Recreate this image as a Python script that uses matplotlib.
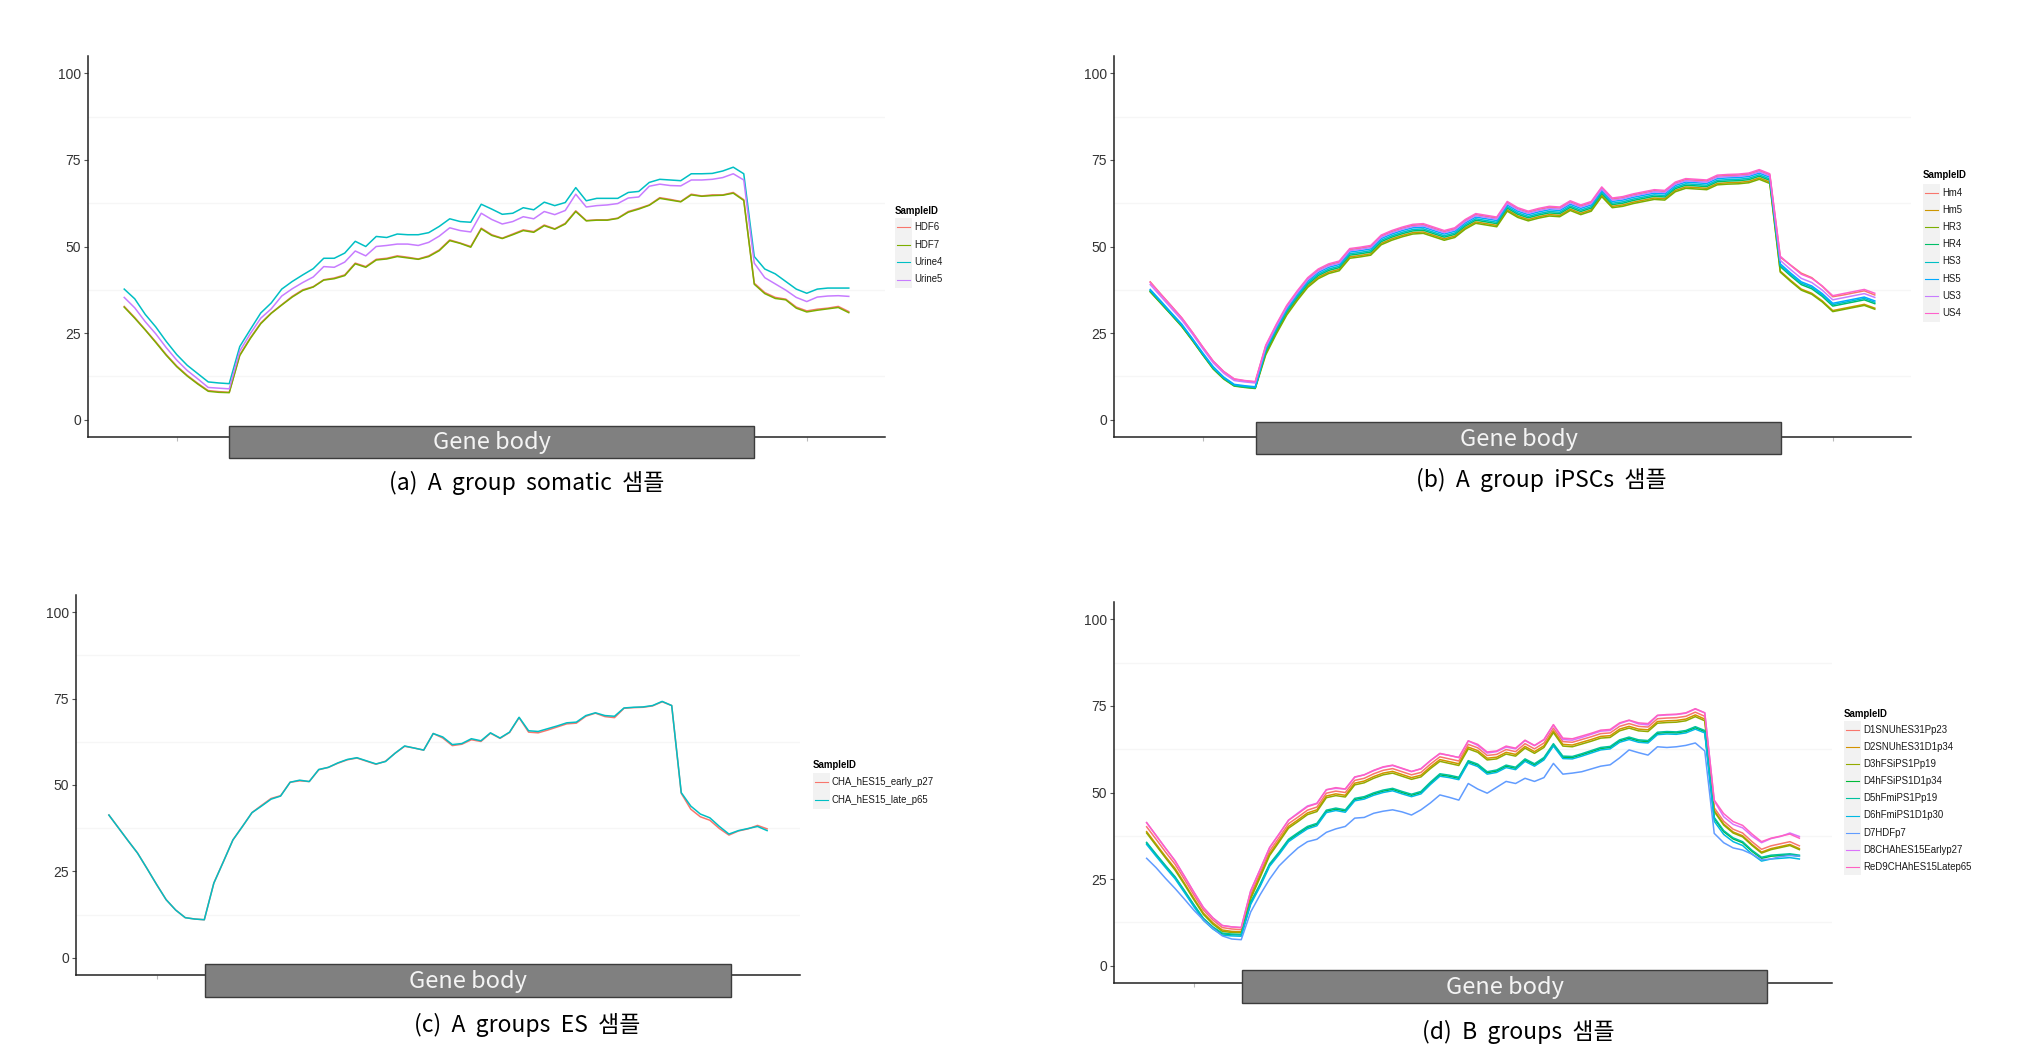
import matplotlib
matplotlib.use('Agg')
import matplotlib.pyplot as plt
from matplotlib.patches import Rectangle
from matplotlib.lines import Line2D
import numpy as np

W, H = 2038, 1058

###  DATA  ###  (gene body coverage, 70 bins: 10 upstream, 50 body, 10 downstream)

# (a) A group somatic
a_names = ['HDF6', 'HDF7', 'Urine4', 'Urine5']
a_HDF6 = [32.7, 29.5, 26.0, 22.5, 18.8, 15.5, 12.8, 10.5, 8.4, 8.1, 7.9,
          18.7, 23.6, 27.9, 30.8, 33.2, 35.6, 37.5, 38.4, 40.4, 40.9,
          41.8, 45.2, 44.2, 46.3, 46.6, 47.3, 46.9, 46.4, 47.3, 49.0,
          51.9, 51.0, 50.0, 55.3, 53.4, 52.4, 53.6, 54.8, 54.3, 56.2,
          55.1, 56.7, 60.3, 57.5, 57.7, 57.7, 58.2, 60.1, 61.0, 62.0,
          64.1, 63.6, 63.0, 65.1, 64.6, 64.9, 64.9, 65.6, 63.5, 39.4,
          36.7, 35.3, 34.8, 32.5, 31.4, 31.9, 32.2, 32.7, 31.2]
a_HDF7 = [32.5, 29.3, 25.9, 22.3, 18.6, 15.3, 12.6, 10.3, 8.2, 7.9, 7.8,
          18.5, 23.4, 27.7, 30.7, 33.1, 35.4, 37.3, 38.3, 40.3, 40.7,
          41.6, 45.0, 44.0, 46.1, 46.4, 47.1, 46.7, 46.3, 47.1, 48.8,
          51.7, 50.9, 49.8, 55.1, 53.2, 52.3, 53.4, 54.6, 54.1, 56.0,
          55.0, 56.5, 60.1, 57.4, 57.6, 57.6, 58.1, 59.9, 60.8, 61.9,
          63.9, 63.4, 62.9, 64.9, 64.5, 64.7, 64.8, 65.4, 63.3, 39.1,
          36.4, 35.0, 34.6, 32.2, 31.1, 31.6, 32.0, 32.4, 30.9]
a_Urine4 = [37.7, 34.9, 30.4, 26.8, 22.6, 18.8, 15.7, 13.3, 10.9, 10.6, 10.4,
            21.1, 26.0, 30.8, 33.7, 37.7, 39.9, 41.8, 43.6, 46.6, 46.6,
            48.1, 51.5, 50.0, 52.9, 52.6, 53.6, 53.4, 53.4, 54.0, 55.8,
            58.0, 57.2, 57.0, 62.2, 60.8, 59.3, 59.6, 61.2, 60.6, 62.8,
            61.8, 62.7, 67.0, 63.2, 63.9, 63.9, 63.9, 65.6, 65.9, 68.5,
            69.4, 69.2, 69.0, 71.0, 71.0, 71.1, 71.8, 72.9, 71.0, 47.1,
            43.5, 42.1, 39.9, 37.7, 36.5, 37.7, 38.0, 38.0, 38.0]
a_Urine5 = [35.3, 32.3, 28.3, 24.8, 20.8, 17.2, 14.2, 11.8, 9.3, 9.1, 8.9,
            19.8, 24.8, 29.3, 32.0, 35.7, 37.8, 39.6, 41.2, 44.2, 44.0,
            45.5, 48.7, 47.3, 50.0, 50.3, 50.7, 50.7, 50.3, 51.2, 53.0,
            55.4, 54.6, 54.2, 59.6, 57.8, 56.5, 57.2, 58.6, 58.0, 60.1,
            59.2, 60.4, 65.1, 61.4, 61.8, 62.0, 62.4, 64.0, 64.3, 67.4,
            68.0, 67.6, 67.5, 69.2, 69.2, 69.4, 69.9, 71.0, 69.2, 45.2,
            41.0, 39.2, 37.4, 35.3, 34.1, 35.4, 35.7, 35.8, 35.6]

# (b) A group iPSCs
b_names = ['Hm4', 'Hm5', 'HR3', 'HR4', 'HS3', 'HS5', 'US3', 'US4']
b_Hm4 = [39.8, 36.3, 32.9, 29.4, 25.3, 21.0, 16.9, 13.9, 11.7, 11.2, 10.9,
         21.2, 27.2, 32.7, 36.9, 40.7, 43.2, 44.7, 45.5, 49.1, 49.5,
         50.0, 53.0, 54.3, 55.3, 56.1, 56.3, 55.3, 54.3, 55.1, 57.5,
         59.2, 58.7, 58.2, 62.7, 60.9, 59.9, 60.7, 61.3, 61.1, 62.9,
         61.7, 62.7, 66.9, 63.7, 64.1, 64.9, 65.5, 66.1, 65.9, 68.3,
         69.3, 69.1, 68.9, 70.3, 70.5, 70.6, 70.9, 71.9, 70.7, 46.9,
         44.6, 42.3, 41.0, 38.5, 35.5, 36.0, 36.6, 37.2, 36.0]
b_Hm5 = [37.0, 33.7, 30.4, 27.0, 23.0, 18.8, 14.8, 11.9, 9.9, 9.5, 9.2,
         19.1, 25.1, 30.6, 34.8, 38.6, 41.1, 42.6, 43.4, 47.0, 47.4,
         47.9, 50.9, 52.2, 53.2, 54.0, 54.2, 53.2, 52.2, 53.0, 55.4,
         57.1, 56.6, 56.1, 60.6, 58.8, 57.8, 58.6, 59.2, 59.0, 60.8,
         59.6, 60.6, 64.8, 61.6, 62.0, 62.8, 63.4, 64.0, 63.8, 66.2,
         67.2, 67.0, 66.8, 68.2, 68.4, 68.5, 68.8, 69.8, 68.6, 42.9,
         40.2, 37.7, 36.5, 34.3, 31.5, 32.1, 32.7, 33.3, 32.2]
b_HR3 = [36.9, 33.6, 30.3, 26.9, 22.9, 18.7, 14.6, 11.7, 9.7, 9.3, 9.0,
         18.7, 24.7, 30.2, 34.4, 38.2, 40.7, 42.2, 43.0, 46.6, 47.0,
         47.5, 50.5, 51.8, 52.8, 53.6, 53.8, 52.8, 51.8, 52.6, 55.0,
         56.7, 56.2, 55.7, 60.2, 58.4, 57.4, 58.2, 58.8, 58.6, 60.4,
         59.2, 60.2, 64.4, 61.2, 61.6, 62.4, 63.0, 63.6, 63.4, 65.8,
         66.8, 66.6, 66.4, 67.8, 68.0, 68.1, 68.4, 69.4, 68.2, 42.6,
         39.9, 37.4, 36.2, 34.0, 31.2, 31.8, 32.4, 33.0, 31.9]
b_HR4 = [37.1, 33.8, 30.4, 27.1, 23.1, 18.8, 14.8, 11.9, 9.8, 9.4, 9.1,
         19.6, 25.6, 31.1, 35.3, 39.1, 41.6, 43.1, 43.9, 47.5, 47.9,
         48.4, 51.4, 52.7, 53.7, 54.5, 54.7, 53.7, 52.7, 53.5, 55.9,
         57.6, 57.1, 56.6, 61.1, 59.3, 58.3, 59.1, 59.7, 59.5, 61.3,
         60.1, 61.1, 65.3, 62.1, 62.5, 63.3, 63.9, 64.5, 64.3, 66.7,
         67.7, 67.5, 67.3, 68.7, 68.9, 69.0, 69.3, 70.3, 69.1, 44.2,
         41.5, 39.0, 37.8, 35.6, 32.8, 33.4, 34.0, 34.6, 33.5]
b_HS3 = [37.3, 34.0, 30.6, 27.3, 23.3, 19.0, 15.0, 12.1, 10.0, 9.6, 9.3,
         20.0, 26.0, 31.5, 35.7, 39.5, 42.0, 43.5, 44.3, 47.9, 48.3,
         48.8, 51.8, 53.1, 54.1, 54.9, 55.1, 54.1, 53.1, 53.9, 56.3,
         58.0, 57.5, 57.0, 61.5, 59.7, 58.7, 59.5, 60.1, 59.9, 61.7,
         60.5, 61.5, 65.7, 62.5, 62.9, 63.7, 64.3, 64.9, 64.7, 67.1,
         68.1, 67.9, 67.7, 69.1, 69.3, 69.4, 69.7, 70.7, 69.5, 44.6,
         41.9, 39.4, 38.2, 36.0, 33.2, 33.8, 34.4, 35.0, 33.9]
b_HS5 = [37.6, 34.3, 30.9, 27.6, 23.5, 19.3, 15.3, 12.3, 10.2, 9.8, 9.5,
         20.5, 26.5, 32.0, 36.2, 40.0, 42.5, 44.0, 44.8, 48.4, 48.8,
         49.3, 52.3, 53.6, 54.6, 55.4, 55.6, 54.6, 53.6, 54.4, 56.8,
         58.5, 58.0, 57.5, 62.0, 60.2, 59.2, 60.0, 60.6, 60.4, 62.2,
         61.0, 62.0, 66.2, 63.0, 63.4, 64.2, 64.8, 65.4, 65.2, 67.6,
         68.6, 68.4, 68.2, 69.6, 69.8, 69.9, 70.2, 71.2, 70.0, 45.0,
         42.3, 39.8, 38.6, 36.4, 33.6, 34.2, 34.8, 35.4, 34.3]
b_US3 = [39.0, 35.6, 32.2, 28.8, 24.8, 20.5, 16.4, 13.4, 11.3, 10.9, 10.6,
         20.9, 26.9, 32.4, 36.6, 40.4, 42.9, 44.4, 45.2, 48.8, 49.2,
         49.7, 52.7, 54.0, 55.0, 55.8, 56.0, 55.0, 54.0, 54.8, 57.2,
         58.9, 58.4, 57.9, 62.4, 60.6, 59.6, 60.4, 61.0, 60.8, 62.6,
         61.4, 62.4, 66.6, 63.4, 63.8, 64.6, 65.2, 65.8, 65.6, 68.0,
         69.0, 68.8, 68.6, 70.0, 70.2, 70.3, 70.6, 71.6, 70.4, 46.0,
         43.3, 40.8, 39.6, 37.4, 34.6, 35.2, 35.8, 36.4, 35.3]
b_US4 = [39.6, 36.2, 32.8, 29.4, 25.3, 21.0, 16.9, 13.9, 11.8, 11.3, 11.0,
         21.5, 27.5, 33.0, 37.2, 41.0, 43.5, 45.0, 45.8, 49.4, 49.8,
         50.3, 53.3, 54.6, 55.6, 56.4, 56.6, 55.6, 54.6, 55.4, 57.8,
         59.5, 59.0, 58.5, 63.0, 61.2, 60.2, 61.0, 61.6, 61.4, 63.2,
         62.0, 63.0, 67.2, 64.0, 64.4, 65.2, 65.8, 66.4, 66.2, 68.6,
         69.6, 69.4, 69.2, 70.6, 70.8, 70.9, 71.2, 72.2, 71.0, 47.2,
         44.5, 42.0, 40.8, 38.6, 35.8, 36.4, 37.0, 37.6, 36.5]

# (c) A groups ES
c_names = ['CHA_hES15_early_p27', 'CHA_hES15_late_p65']
c_early = [41.3, 37.6, 33.9, 30.3, 25.8, 21.2, 16.8, 13.8, 11.6, 11.2, 11.0,
           21.6, 27.8, 34.1, 38.0, 42.0, 44.1, 46.1, 46.9, 50.8, 51.2,
           51.0, 54.4, 55.1, 56.3, 57.3, 57.8, 56.9, 56.0, 56.9, 59.2,
           61.2, 60.7, 60.1, 64.9, 63.6, 61.4, 61.8, 63.1, 62.6, 65.0,
           63.5, 65.2, 69.5, 65.3, 65.1, 65.9, 66.8, 67.7, 67.9, 69.9,
           70.8, 69.8, 69.5, 72.2, 72.4, 72.5, 72.9, 74.1, 73.0, 47.6,
           43.0, 40.8, 39.8, 37.4, 35.5, 36.7, 37.3, 38.3, 37.3]
c_late = [41.3, 37.6, 33.9, 30.3, 25.8, 21.2, 16.8, 13.8, 11.6, 11.2, 11.0,
          21.6, 27.8, 34.1, 38.0, 42.0, 43.9, 45.9, 46.8, 50.8, 51.4,
          51.0, 54.5, 55.1, 56.4, 57.4, 57.9, 57.0, 56.1, 56.8, 59.2,
          61.3, 60.7, 60.1, 64.9, 63.9, 61.7, 62.0, 63.4, 62.8, 65.1,
          63.6, 65.3, 69.6, 65.7, 65.5, 66.3, 67.1, 68.0, 68.2, 70.1,
          70.9, 70.1, 69.9, 72.3, 72.5, 72.6, 73.0, 74.2, 73.0, 47.8,
          43.9, 41.6, 40.5, 38.0, 35.8, 36.8, 37.4, 38.0, 36.8]

# (d) B groups
d_names = ['D1SNUhES31Pp23', 'D2SNUhES31D1p34', 'D3hFSiPS1Pp19', 'D4hFSiPS1D1p34',
           'D5hFmiPS1Pp19', 'D6hFmiPS1D1p30', 'D7HDFp7', 'D8CHAhES15Earlyp27',
           'ReD9CHAhES15Latep65']
d_D1 = [40.1, 36.5, 32.8, 29.3, 24.9, 20.4, 16.1, 13.2, 11.0, 10.6, 10.4,
        20.6, 26.8, 33.1, 37.0, 41.0, 42.9, 44.9, 45.8, 49.8, 50.4,
        50.0, 53.5, 54.1, 55.4, 56.4, 56.9, 56.0, 55.1, 55.8, 58.2,
        60.3, 59.7, 59.1, 63.9, 62.9, 60.7, 61.0, 62.4, 61.8, 64.1,
        62.6, 64.3, 68.6, 64.7, 64.5, 65.3, 66.1, 67.0, 67.2, 69.1,
        69.9, 69.1, 68.9, 71.3, 71.5, 71.6, 72.0, 73.2, 72.0, 45.6,
        41.7, 39.4, 38.3, 35.8, 33.6, 34.6, 35.2, 35.8, 34.6]
d_D2 = [38.7, 35.1, 31.5, 28.1, 23.8, 19.4, 15.2, 12.4, 10.3, 9.9, 9.8,
        19.8, 26.0, 32.3, 36.2, 40.2, 42.1, 44.1, 45.0, 49.0, 49.6,
        49.2, 52.7, 53.3, 54.6, 55.6, 56.1, 55.2, 54.3, 55.0, 57.4,
        59.5, 58.9, 58.3, 63.1, 62.1, 59.9, 60.2, 61.6, 61.0, 63.3,
        61.8, 63.5, 67.8, 63.9, 63.7, 64.5, 65.3, 66.2, 66.4, 68.3,
        69.1, 68.3, 68.1, 70.5, 70.7, 70.8, 71.2, 72.4, 71.2, 44.8,
        40.9, 38.6, 37.5, 35.0, 32.8, 33.8, 34.4, 35.0, 33.8]
d_D3 = [38.3, 34.7, 31.1, 27.6, 23.4, 19.0, 14.8, 12.0, 9.9, 9.6, 9.5,
        19.3, 25.5, 31.8, 35.7, 39.7, 41.6, 43.6, 44.5, 48.5, 49.1,
        48.7, 52.2, 52.8, 54.1, 55.1, 55.6, 54.7, 53.8, 54.5, 56.9,
        59.0, 58.4, 57.8, 62.6, 61.6, 59.4, 59.7, 61.1, 60.5, 62.8,
        61.3, 63.0, 67.3, 63.4, 63.2, 64.0, 64.8, 65.7, 65.9, 67.8,
        68.6, 67.8, 67.6, 70.0, 70.2, 70.3, 70.7, 71.9, 70.7, 44.5,
        40.6, 38.3, 37.2, 34.7, 32.5, 33.5, 34.1, 34.7, 33.5]
d_D4 = [35.4, 32.0, 28.7, 25.5, 21.5, 17.4, 13.5, 11.0, 9.2, 9.0, 8.9,
        18.1, 23.3, 29.1, 32.5, 36.2, 38.1, 39.9, 40.8, 44.6, 45.2,
        44.7, 48.0, 48.5, 49.6, 50.4, 50.9, 50.0, 49.2, 50.0, 52.7,
        55.1, 54.7, 54.1, 58.9, 57.9, 55.7, 56.2, 57.6, 57.0, 59.4,
        58.0, 59.8, 63.8, 60.2, 60.1, 60.9, 61.8, 62.7, 63.0, 64.9,
        65.7, 64.9, 64.7, 67.1, 67.3, 67.2, 67.6, 68.7, 67.6, 42.5,
        38.7, 36.6, 35.5, 33.0, 31.0, 31.6, 31.8, 32.0, 31.6]
d_D5 = [35.6, 32.2, 28.9, 25.7, 21.7, 17.6, 13.7, 11.2, 9.4, 9.1, 9.0,
        18.4, 23.6, 29.4, 32.8, 36.5, 38.4, 40.2, 41.1, 44.9, 45.5,
        45.0, 48.3, 48.8, 49.9, 50.7, 51.2, 50.3, 49.5, 50.3, 53.0,
        55.4, 55.0, 54.4, 59.2, 58.2, 56.0, 56.5, 57.9, 57.3, 59.7,
        58.3, 60.1, 64.1, 60.5, 60.4, 61.2, 62.1, 63.0, 63.3, 65.2,
        66.0, 65.2, 65.0, 67.4, 67.6, 67.5, 67.9, 69.0, 67.9, 42.8,
        39.0, 36.9, 35.8, 33.3, 31.3, 31.9, 32.1, 32.3, 31.9]
d_D6 = [35.0, 31.6, 28.3, 25.1, 21.1, 17.0, 13.1, 10.6, 8.8, 8.6, 8.5,
        17.7, 22.9, 28.7, 32.1, 35.8, 37.7, 39.5, 40.4, 44.2, 44.8,
        44.3, 47.6, 48.1, 49.2, 50.0, 50.5, 49.6, 48.8, 49.6, 52.3,
        54.7, 54.3, 53.7, 58.5, 57.5, 55.3, 55.8, 57.2, 56.6, 59.0,
        57.6, 59.4, 63.4, 59.8, 59.7, 60.5, 61.4, 62.3, 62.6, 64.5,
        65.3, 64.5, 64.3, 66.7, 66.9, 66.8, 67.2, 68.3, 67.2, 41.7,
        37.9, 35.8, 34.7, 32.2, 30.2, 30.8, 31.0, 31.2, 30.8]
d_D7 = [31.0, 28.3, 25.2, 22.3, 19.2, 16.0, 13.2, 10.8, 8.6, 7.7, 7.5,
        15.5, 20.5, 25.0, 28.8, 31.5, 34.0, 35.8, 36.5, 38.5, 39.5,
        40.2, 42.6, 42.8, 44.0, 44.6, 45.0, 44.4, 43.5, 45.0, 47.0,
        49.3, 48.6, 47.8, 52.6, 51.0, 49.8, 51.5, 53.2, 52.6, 54.1,
        53.2, 54.3, 58.4, 55.3, 55.6, 56.0, 56.8, 57.6, 58.0, 60.0,
        62.3, 61.5, 60.8, 63.2, 63.0, 63.2, 63.6, 64.3, 62.0, 38.2,
        35.5, 34.0, 33.4, 32.2, 30.6, 30.8, 31.5, 31.8, 31.6]
d_D8 = c_early          # same library as panel (c)
d_ReD9 = c_late

captions = ['(a)  A  group  somatic  샘플', '(b)  A  group  iPSCs  샘플',
            '(c)  A  groups  ES  샘플', '(d)  B  groups  샘플']
yticks = [0, 25, 50, 75, 100]

hue = {2: ['#F8766D', '#00BFC4'],
       4: ['#F8766D', '#7CAE00', '#00BFC4', '#C77CFF'],
       8: ['#F8766D', '#CD9600', '#7CAE00', '#00BE67', '#00BFC4', '#00A9FF', '#C77CFF', '#FF61CC'],
       9: ['#F8766D', '#D39200', '#93AA00', '#00BA38', '#00C19F', '#00B9E3', '#619CFF', '#DB72FB', '#FF61C3']}

###  LAYOUT (pixels of the 2038x1058 page)  ###

panels = [
    dict(ax=(88, 56, 885, 437), names=a_names, data=[a_HDF6, a_HDF7, a_Urine4, a_Urine5],
         leg=(895, 211, 227, 17.5), box=(229, 426, 754, 458), cap=(527, 483)),
    dict(ax=(1114, 56, 1911, 437), names=b_names,
         data=[b_Hm4, b_Hm5, b_HR3, b_HR4, b_HS3, b_HS5, b_US3, b_US4],
         leg=(1923, 175, 192.7, 17.2), box=(1256, 422, 1781, 454), cap=(1541, 480)),
    dict(ax=(76, 595, 800, 975), names=c_names, data=[c_early, c_late],
         leg=(813, 765, 782.3, 17.7), box=(205, 964, 731, 997), cap=(527, 1025)),
    dict(ax=(1114, 602, 1832, 983), names=d_names,
         data=[d_D1, d_D2, d_D3, d_D4, d_D5, d_D6, d_D7, d_D8, d_ReD9],
         leg=(1844, 714, 730, 17.1), box=(1242, 970, 1767, 1003), cap=(1518, 1032)),
]

fig = plt.figure(figsize=(W / 100, H / 100), dpi=100)
fig.patch.set_facecolor('white')


def fx(x):
    return x / W


def fy(y):
    return 1 - y / H


for p, cap in zip(panels, captions):
    x0, y0, x1, y1 = p['ax']
    ax = fig.add_axes([fx(x0), fy(y1), (x1 - x0) / W, (y1 - y0) / H])
    cols = hue[len(p['names'])]
    for s, c in zip(p['data'], cols):
        ax.plot(np.arange(len(s)), s, color=c, lw=1.1, solid_joinstyle='round')
    ax.set_xlim(-3.45, 72.45)
    ax.set_ylim(-5, 105)
    for v in [12.5, 37.5, 62.5, 87.5]:
        ax.axhline(v, color='#F6F6F6', lw=0.9, zorder=0)
    for side in ['top', 'right']:
        ax.spines[side].set_visible(False)
    for side in ['left', 'bottom']:
        ax.spines[side].set_color('#222222')
        ax.spines[side].set_linewidth(1.1)
    ax.set_yticks(yticks)
    ax.set_yticklabels([str(t) for t in yticks], fontsize=10, color='#333333',
                       family='Liberation Sans')
    ax.tick_params(axis='y', length=3, width=0.8, color='#555555', pad=2)
    ax.set_xticks([5, 35, 65])
    ax.set_xticklabels([])
    ax.tick_params(axis='x', length=3, width=0.8, color='#BBBBBB')

    # legend, ggplot style
    tx, ty, iy, step = p['leg']
    fig.text(fx(tx), fy(ty), 'SampleID', fontsize=6.9, fontweight='bold',
             family='Liberation Sans', ha='left', va='center', color='black')
    for k, (n, c) in enumerate(zip(p['names'], cols)):
        yc = iy + k * step
        fig.add_artist(Rectangle((fx(tx), fy(yc + step / 2)), 17 / W, step / H,
                                 transform=fig.transFigure, facecolor='#F2F2F2',
                                 edgecolor='none'))
        fig.add_artist(Line2D([fx(tx + 2), fx(tx + 15)], [fy(yc), fy(yc)],
                              transform=fig.transFigure, color=c, lw=0.8))
        fig.text(fx(tx + 19), fy(yc), n, fontsize=6.9, family='Liberation Sans',
                 ha='left', va='center', color='#1A1A1A')

    # gene body bar
    bx0, by0, bx1, by1 = p['box']
    fig.add_artist(Rectangle((fx(bx0), fy(by1)), (bx1 - bx0) / W, (by1 - by0) / H,
                             transform=fig.transFigure, facecolor='#808080',
                             edgecolor='#3C3C3C', lw=1.0, zorder=5))
    fig.text(fx((bx0 + bx1) / 2), fy((by0 + by1) / 2 + 1), 'Gene body', fontsize=17,
             family='Noto Sans CJK KR', color='#F4F4F4', ha='center', va='center',
             zorder=6)

    cx, cy = p['cap']
    fig.text(fx(cx), fy(cy), cap, fontsize=16.5, family=['Noto Sans CJK KR', 'DejaVu Sans'],
             ha='center', va='center', color='black')

fig.savefig('out.png', dpi=100)
